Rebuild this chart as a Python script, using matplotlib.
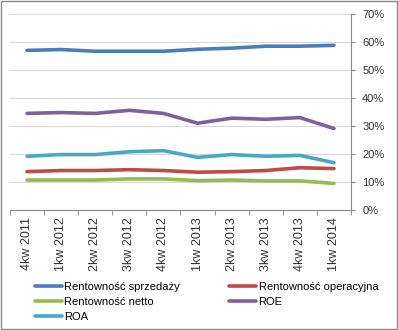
import matplotlib.pyplot as plt
from matplotlib.ticker import FuncFormatter, FixedLocator

plt.rcParams['font.family'] = ['Liberation Sans', 'DejaVu Sans']

quarters = ['4kw 2011', '1kw 2012', '2kw 2012', '3kw 2012', '4kw 2012',
            '1kw 2013', '2kw 2013', '3kw 2013', '4kw 2013', '1kw 2014']

sprzedazy = [57.0, 57.3, 56.7, 56.7, 56.7, 57.4, 57.8, 58.5, 58.5, 58.8]
operacyjna = [13.7, 14.1, 14.1, 14.4, 14.1, 13.5, 13.7, 14.1, 15.1, 14.8]
netto = [10.7, 10.7, 10.7, 11.1, 11.1, 10.5, 10.7, 10.4, 10.4, 9.5]
roe = [34.5, 34.8, 34.5, 35.6, 34.5, 31.0, 32.8, 32.4, 33.0, 29.1]
roa = [19.2, 19.8, 19.8, 20.8, 21.2, 18.8, 19.8, 19.2, 19.5, 16.9]

series = [
    ('Rentowność sprzedaży', sprzedazy, '#4a7ebb'),
    ('Rentowność operacyjna', operacyjna, '#be4b48'),
    ('Rentowność netto', netto, '#98b954'),
    ('ROE', roe, '#7d60a0'),
    ('ROA', roa, '#46aac5'),
]

fig = plt.figure(figsize=(3.98, 3.30), dpi=100)
ax = fig.add_axes([0.025, 0.3636, 0.857, 0.594])

x = range(len(quarters))
lines = {}
for name, vals, col in series:
    lines[name], = ax.plot(x, vals, color=col, lw=2.6, label=name, solid_capstyle='round')

ax.set_xlim(-0.5, len(quarters) - 0.5)
ax.set_ylim(0, 70)
ax.set_yticks(range(0, 71, 10))
ax.yaxis.set_major_formatter(FuncFormatter(lambda v, p: '%d%%' % v))
ax.yaxis.tick_right()
ax.grid(axis='y', color='#d9d9d9', lw=0.8)
ax.set_axisbelow(True)

ax.set_xticks(list(x))
ax.set_xticklabels(quarters, rotation=90, fontsize=9, color='#333333')
ax.tick_params(axis='x', length=0, pad=5)
ax.xaxis.set_minor_locator(FixedLocator([i - 0.5 for i in range(len(quarters) + 1)]))
ax.tick_params(axis='x', which='minor', length=3.5, direction='out', color='#888888')
ax.tick_params(axis='y', labelsize=8, length=3, direction='out', color='#888888',
               labelcolor='#333333', pad=5)

for s in ['top', 'left']:
    ax.spines[s].set_visible(False)
ax.spines['right'].set_color('#888888')
ax.spines['bottom'].set_color('#888888')

# legend filled row by row like the original: reorder for column-major layout
order = ['Rentowność sprzedaży', 'Rentowność netto', 'ROA',
         'Rentowność operacyjna', 'ROE']
fig.legend([lines[n] for n in order], order, loc='upper left',
           bbox_to_anchor=(35 / 398, 1 - 282 / 330), ncol=2, frameon=False,
           fontsize=8, handlelength=2.4, handletextpad=0.25, columnspacing=4.4,
           labelspacing=0.45, borderpad=0, borderaxespad=0)

border = plt.Rectangle((0.002, 0.002), 0.995, 0.995, transform=fig.transFigure,
                       fill=False, ec='#888888', lw=1)
fig.patches.append(border)

fig.savefig('out.png', dpi=100)
